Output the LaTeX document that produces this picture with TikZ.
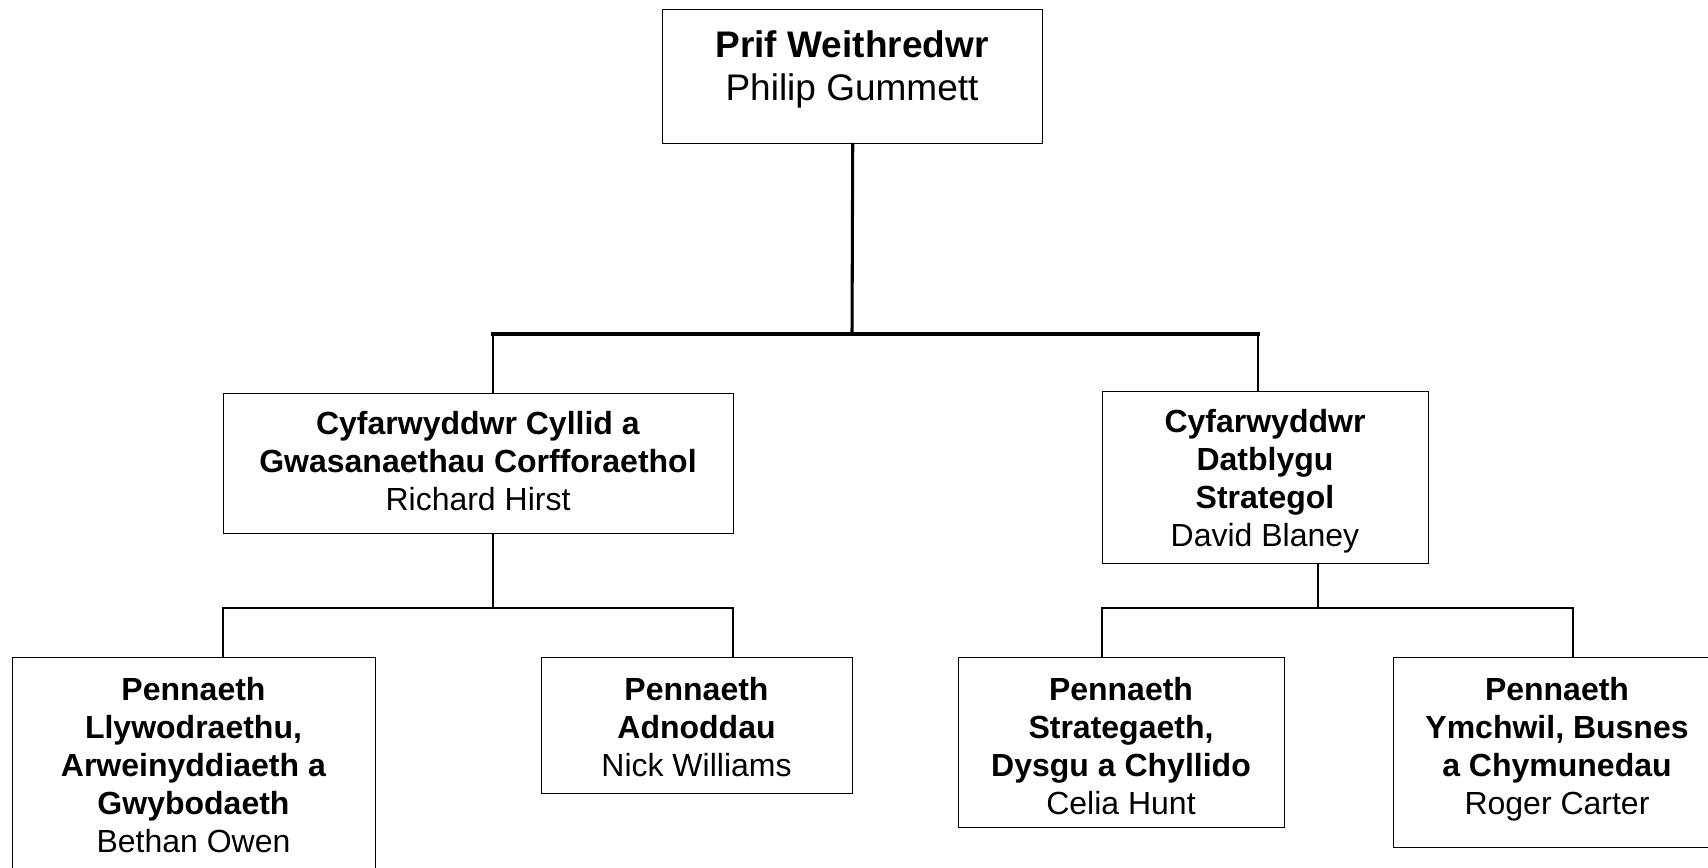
\documentclass[tikz,border=0pt]{standalone}
\usepackage{fontspec}
\setmainfont{Liberation Sans}
\begin{document}
\begin{tikzpicture}[x=0.75pt,y=-0.75pt,
  box/.style={draw=black,line width=1.1pt,inner sep=0pt,anchor=north west},
  txt/.style={inner sep=0pt,anchor=north,align=center,font=\fontsize{24}{28.5}\selectfont},
  toptxt/.style={inner sep=0pt,anchor=north,align=center,font=\fontsize{27.75}{32.7}\selectfont},
  trunk/.style={line width=2.3pt,line cap=rect},
  leg/.style={line width=1.5pt,line join=miter}]
\useasboundingbox (0,0) rectangle (1708,867);
% boxes
\node[box,minimum width=285pt,minimum height=100.5pt] (top) at (662,9) {};
\node[box,minimum width=382.5pt,minimum height=105pt] (mL) at (223,393) {};
\node[box,minimum width=244.5pt,minimum height=129pt] (mR) at (1102,391) {};
\node[box,minimum width=272.25pt,minimum height=172.5pt] (bLL) at (12,657) {};
\node[box,minimum width=233.25pt,minimum height=102pt] (bAd) at (541,657) {};
\node[box,minimum width=244.5pt,minimum height=127.5pt] (bCe) at (958,657) {};
\node[box,minimum width=245.25pt,minimum height=142.5pt] (bRo) at (1393,657) {};
% texts
\node[toptxt] (topt) at (852,30) {\textbf{Prif Weithredwr}\\Philip Gummett};
\node[txt] (mLt) at (478,411) {\textbf{Cyfarwyddwr Cyllid a}\\\textbf{Gwasanaethau Corfforaethol}\\Richard Hirst};
\node[txt] (mRt) at (1265,409) {\textbf{Cyfarwyddwr}\\\textbf{Datblygu}\\\textbf{Strategol}\\David Blaney};
\node[txt] (bLLt) at (193.5,677) {\textbf{Pennaeth}\\\textbf{Llywodraethu,}\\\textbf{Arweinyddiaeth a}\\\textbf{Gwybodaeth}\\Bethan Owen};
\node[txt] (bAdt) at (696.5,677) {\textbf{Pennaeth}\\\textbf{Adnoddau}\\Nick Williams};
\node[txt] (bCet) at (1121,677) {\textbf{Pennaeth}\\\textbf{Strategaeth,}\\\textbf{Dysgu a Chyllido}\\Celia Hunt};
\node[txt] (bRot) at (1557,677) {\textbf{Pennaeth}\\\textbf{Ymchwil, Busnes}\\\textbf{a Chymunedau}\\Roger Carter};
% junctions
\coordinate (j0) at (852,334);
\coordinate (jL) at (493,334);
\coordinate (jR) at (1258,334);
\coordinate (kL) at (493,608);
\coordinate (kLa) at (223,608);
\coordinate (kLb) at (733,608);
\coordinate (kR) at (1318,608);
\coordinate (kRa) at (1102,608);
\coordinate (kRb) at (1573,608);
% connectors
\draw[trunk] (top.south) -- (j0);
\draw[leg] (mL.north -| jL) -- (jL);
\draw[leg] (mR.north -| jR) -- (jR);
\draw[trunk] (jL) -- (jR);
\draw[leg] (mL.south -| kL) -- (kL);
\draw[leg] (bLL.north -| kLa) -- (kLa) -- (kLb) -- (bAd.north -| kLb);
\draw[leg] (mR.south -| kR) -- (kR);
\draw[leg] (bCe.north -| kRa) -- (kRa) -- (kRb) -- (bRo.north -| kRb);
\end{tikzpicture}
\end{document}
